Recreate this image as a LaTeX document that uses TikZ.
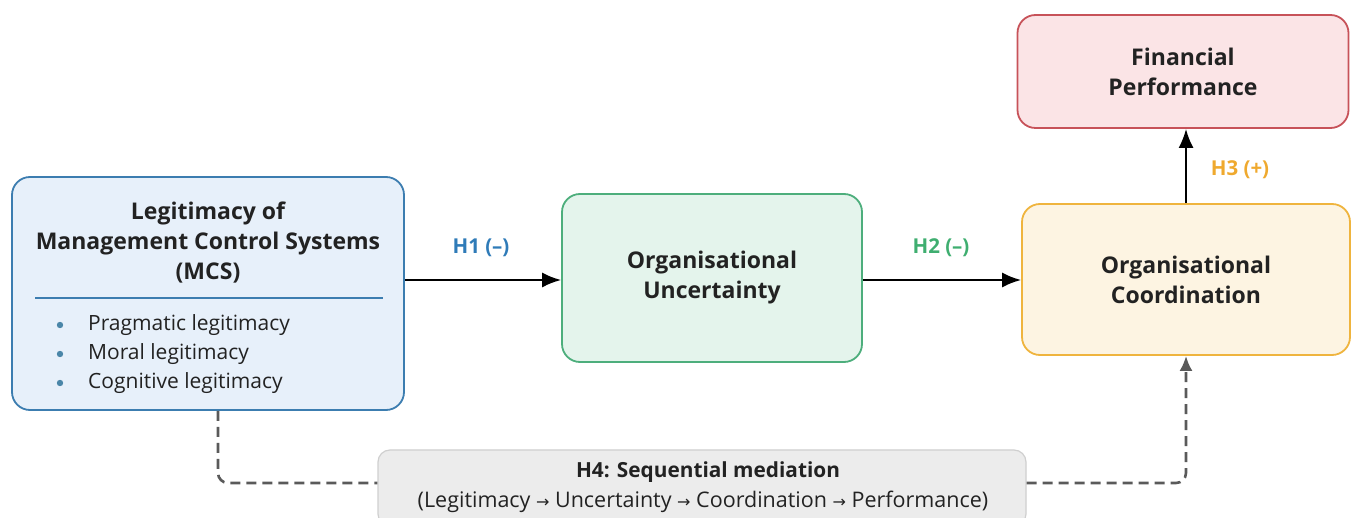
\documentclass[tikz,border=0pt]{standalone}
\usepackage{fontspec}
\setmainfont{Open Sans}
\newfontfamily\arrowfont{DejaVu Sans}
\usetikzlibrary{arrows.meta,calc}
\definecolor{bluebd}{HTML}{3C7DB0}
\definecolor{bluefill}{HTML}{E7F0FA}
\definecolor{greenbd}{HTML}{4DAE7C}
\definecolor{greenfill}{HTML}{E4F4EC}
\definecolor{orangebd}{HTML}{EFB43E}
\definecolor{orangefill}{HTML}{FDF4E2}
\definecolor{redbd}{HTML}{C75259}
\definecolor{redfill}{HTML}{FBE4E6}
\definecolor{graybd}{HTML}{CFCFCF}
\definecolor{grayfill}{HTML}{ECECEC}
\definecolor{hone}{HTML}{2F7BB8}
\definecolor{htwo}{HTML}{3FAE70}
\definecolor{hthree}{HTML}{EFA92E}
\definecolor{bulletc}{HTML}{4A86A8}
\definecolor{txt}{HTML}{222222}
\definecolor{dashc}{HTML}{5A5A5A}
\newcommand{\rarr}{{\arrowfont\fontsize{16}{20}\selectfont →}}
\tikzset{
  box/.style={draw, rounded corners=18pt, line width=1.8pt, inner sep=0pt, text=txt},
  title/.style={font=\fontsize{23}{30}\selectfont\bfseries, align=center, text=txt},
  itemtext/.style={font=\fontsize{21}{24}\selectfont, anchor=west, text=txt, inner sep=0pt},
  hlabel/.style={font=\fontsize{20.5}{24}\selectfont\bfseries},
  mainarrow/.style={line width=2pt, draw=black, -{Latex[length=19pt,width=15pt]}},
  dashpath/.style={line width=2.6pt, draw=dashc, dash pattern=on 10pt off 6pt, rounded corners=10pt},
}
\begin{document}
\begin{tikzpicture}[x=1pt,y=-1pt]
\useasboundingbox (0,0) rectangle (1353,518);
% boxes
\node[box, draw=bluebd, fill=bluefill, minimum width=392pt, minimum height=233pt] (mcs) at (208,293.5) {};
\node[box, draw=greenbd, fill=greenfill, minimum width=300pt, minimum height=168pt] (unc) at (712,278) {};
\node[box, draw=orangebd, fill=orangefill, minimum width=328pt, minimum height=151pt] (coord) at (1186,279.5) {};
\node[box, draw=redbd, fill=redfill, minimum width=331pt, minimum height=113pt] (fin) at (1183,71.5) {};
\node[box, draw=graybd, fill=grayfill, line width=1.2pt, rounded corners=12pt, minimum width=648pt, minimum height=76pt] (h4) at (702,488) {};
% MCS content
\node[title] (mcst) at (208,243) {Legitimacy of\\Management Control Systems\\(MCS)};
\draw[bluebd, line width=1.5pt] (35,298) -- (383,298);
\foreach \y/\t [count=\i] in {325/Pragmatic legitimacy,354/Moral legitimacy,383/Cognitive legitimacy}{
  \fill[bulletc] (60,\y) circle (3.2pt);
  \node[itemtext] (item\i) at (88,\y) {\t};
}
% other box texts
\node[title] (unct) at (unc) {Organisational\\Uncertainty};
\node[title] (coordt) at (coord) {Organisational\\Coordination};
\node[title] (fint) at (fin) {Financial\\Performance};
\node[font=\fontsize{20.8}{24}\selectfont\bfseries, text=txt] (h4a) at (708,472) {H4: Sequential mediation};
\node[font=\fontsize{21.5}{24}\selectfont, text=txt] (h4b) at (703,502) {(Legitimacy \rarr{} Uncertainty \rarr{} Coordination \rarr{} Performance)};
% arrows
\draw[mainarrow] (mcs.east |- 0,280) coordinate (a1) -- (unc.west |- a1);
\draw[mainarrow] (unc.east |- 0,280) coordinate (a2) -- (coord.west |- a2);
\draw[mainarrow] (coord.north) -- (coord.north |- fin.south);
\node[hlabel, text=hone] (l1) at (481,248) {H1 (--)};
\node[hlabel, text=htwo] (l2) at (941,248) {H2 (--)};
\node[hlabel, text=hthree] (l3) at (1240,170) {H3 (+)};
% dashed mediation paths
\draw[dashpath] ([xshift=10pt]mcs.south) |- (h4.west |- 0,483);
\draw[dashpath, -{Latex[length=15pt,width=13pt]}] (h4.east |- 0,483) -| (coord.south);
\end{tikzpicture}
\end{document}
